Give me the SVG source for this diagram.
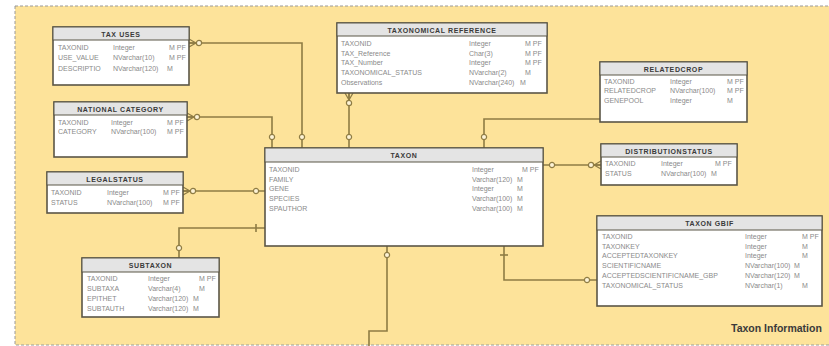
<svg xmlns="http://www.w3.org/2000/svg" width="829" height="346" viewBox="0 0 829 346">
<style>
.box{fill:#fff;stroke:#5b5646;stroke-width:1.6}
.hdr{fill:#e4e4e4;stroke:#5b5646;stroke-width:1}
.ht{font-family:"Liberation Sans",Arial,sans-serif;font-size:7px;font-weight:bold;fill:#3a3a3a;text-anchor:middle;letter-spacing:0.6px}
.r{font-family:"Liberation Sans",Arial,sans-serif;font-size:7px;fill:#8a8a8a}
.con{fill:none;stroke:#8e7c44;stroke-width:1.6}
.oc{fill:#fdf3d6;stroke:#8e7c44;stroke-width:1.2}
.lbl{font-family:"Liberation Sans",Arial,sans-serif;font-size:10.5px;font-weight:bold;fill:#3a3a3a}
</style>
<defs>
<g id="cf">
<path d="M0,-4 L7,0 M0,4 L7,0 M0,0 L7,0" fill="none" stroke="#8e7c44" stroke-width="1.3"/>
<circle cx="10" cy="0" r="2.6" class="oc"/>
</g>
<circle id="oc" r="2.6" class="oc"/>
</defs>
<rect x="0" y="0" width="829" height="346" fill="#ffffff"/>
<rect x="15" y="6" width="830" height="339" fill="#fde39a" stroke="#9a9a9a" stroke-width="1" stroke-dasharray="3,2"/>

<g id="connectors">
<path class="con" d="M189,43 H302 V148"/>
<use href="#cf" transform="translate(189,43)"/>
<use href="#oc" x="302" y="137"/>
<path class="con" d="M187,117 H272 V148"/>
<use href="#cf" transform="translate(187,117)"/>
<use href="#oc" x="272" y="137"/>
<path class="con" d="M349,93 V148"/>
<use href="#cf" transform="translate(349,93) rotate(90)"/>
<use href="#oc" x="349" y="137"/>
<path class="con" d="M600,119 H484 V148"/>
<use href="#oc" x="484" y="137"/>
<path class="con" d="M543,165 H601"/>
<use href="#oc" x="552" y="165"/>
<use href="#cf" transform="translate(601,165) rotate(180)"/>
<path class="con" d="M183,191 H265"/>
<use href="#cf" transform="translate(183,191)"/>
<use href="#oc" x="256" y="191"/>
<path class="con" d="M265,228 H179 V258"/>
<path class="con" d="M256,224 V232"/>
<use href="#oc" x="179" y="248"/>
<path class="con" d="M504,246 V280 H597"/>
<path class="con" d="M500,255 H508"/>
<use href="#oc" x="587" y="280"/>
<path class="con" d="M387,246 V331 H369 V346"/>
<use href="#oc" x="387" y="255"/>
</g>

<g id="tax_uses">
<rect class="box" x="53" y="27" width="136" height="58"/>
<rect class="hdr" x="53" y="27" width="136" height="13"/>
<text class="ht" x="121" y="36.5">TAX USES</text>
<text class="r" x="58" y="49.5">TAXONID</text><text class="r" x="113" y="49.5">Integer</text><text class="r" x="169" y="49.5">M PF</text>
<text class="r" x="58" y="60">USE_VALUE</text><text class="r" x="113" y="60">NVarchar(10)</text><text class="r" x="169" y="60">M PF</text>
<text class="r" x="58" y="70.5">DESCRIPTIO</text><text class="r" x="113" y="70.5">NVarchar(120)</text><text class="r" x="167" y="70.5">M</text>
</g>

<g id="national_category">
<rect class="box" x="54" y="102" width="133" height="55"/>
<rect class="hdr" x="54" y="102" width="133" height="13"/>
<text class="ht" x="120.5" y="111.5">NATIONAL CATEGORY</text>
<text class="r" x="58" y="124.5">TAXONID</text><text class="r" x="111" y="124.5">Integer</text><text class="r" x="167" y="124.5">M PF</text>
<text class="r" x="58" y="134">CATEGORY</text><text class="r" x="111" y="134">NVarchar(100)</text><text class="r" x="167" y="134">M PF</text>
</g>

<g id="taxonomical_reference">
<rect class="box" x="337" y="23" width="210" height="70"/>
<rect class="hdr" x="337" y="23" width="210" height="13"/>
<text class="ht" x="442" y="32.5">TAXONOMICAL REFERENCE</text>
<text class="r" x="341" y="45.5">TAXONID</text><text class="r" x="469" y="45.5">Integer</text><text class="r" x="525" y="45.5">M PF</text>
<text class="r" x="341" y="55.5">TAX_Reference</text><text class="r" x="469" y="55.5">Char(3)</text><text class="r" x="525" y="55.5">M PF</text>
<text class="r" x="341" y="65">TAX_Number</text><text class="r" x="469" y="65">Integer</text><text class="r" x="525" y="65">M PF</text>
<text class="r" x="341" y="74.5">TAXONOMICAL_STATUS</text><text class="r" x="469" y="74.5">NVarchar(2)</text><text class="r" x="525" y="74.5">M</text>
<text class="r" x="341" y="85">Observations</text><text class="r" x="469" y="85">NVarchar(240)</text><text class="r" x="520" y="85">M</text>
</g>

<g id="relatedcrop">
<rect class="box" x="600" y="62" width="147" height="60"/>
<rect class="hdr" x="600" y="62" width="147" height="13"/>
<text class="ht" x="673.5" y="71.5">RELATEDCROP</text>
<text class="r" x="604" y="83.5">TAXONID</text><text class="r" x="670" y="83.5">Integer</text><text class="r" x="727" y="83.5">M PF</text>
<text class="r" x="604" y="93">RELATEDCROP</text><text class="r" x="670" y="93">NVarchar(100)</text><text class="r" x="727" y="93">M PF</text>
<text class="r" x="604" y="102.5">GENEPOOL</text><text class="r" x="670" y="102.5">Integer</text><text class="r" x="727" y="102.5">M</text>
</g>

<g id="distributionstatus">
<rect class="box" x="601" y="144" width="136" height="41"/>
<rect class="hdr" x="601" y="144" width="136" height="13"/>
<text class="ht" x="669" y="153.5">DISTRIBUTIONSTATUS</text>
<text class="r" x="605" y="166">TAXONID</text><text class="r" x="661" y="166">Integer</text><text class="r" x="715" y="166">M PF</text>
<text class="r" x="605" y="175.5">STATUS</text><text class="r" x="661" y="175.5">NVarchar(100)</text><text class="r" x="711" y="175.5">M</text>
</g>

<g id="taxon">
<rect class="box" x="265" y="148" width="278" height="98"/>
<rect class="hdr" x="265" y="148" width="278" height="14"/>
<text class="ht" x="404" y="157.5">TAXON</text>
<text class="r" x="269" y="171.5">TAXONID</text><text class="r" x="472" y="171.5">Integer</text><text class="r" x="522" y="171.5">M PF</text>
<text class="r" x="269" y="181.5">FAMILY</text><text class="r" x="472" y="181.5">Varchar(120)</text><text class="r" x="517" y="181.5">M</text>
<text class="r" x="269" y="191">GENE</text><text class="r" x="472" y="191">Integer</text><text class="r" x="517" y="191">M</text>
<text class="r" x="269" y="200.5">SPECIES</text><text class="r" x="472" y="200.5">Varchar(100)</text><text class="r" x="517" y="200.5">M</text>
<text class="r" x="269" y="211">SPAUTHOR</text><text class="r" x="472" y="211">Varchar(100)</text><text class="r" x="517" y="211">M</text>
</g>

<g id="taxon_gbif">
<rect class="box" x="597" y="216" width="225" height="90"/>
<rect class="hdr" x="597" y="216" width="225" height="14"/>
<text class="ht" x="709.5" y="225.5">TAXON GBIF</text>
<text class="r" x="602" y="238.5">TAXONID</text><text class="r" x="745" y="238.5">Integer</text><text class="r" x="802" y="238.5">M PF</text>
<text class="r" x="602" y="248.5">TAXONKEY</text><text class="r" x="745" y="248.5">Integer</text><text class="r" x="802" y="248.5">M</text>
<text class="r" x="602" y="258">ACCEPTEDTAXONKEY</text><text class="r" x="745" y="258">Integer</text><text class="r" x="802" y="258">M</text>
<text class="r" x="602" y="268">SCIENTIFICNAME</text><text class="r" x="745" y="268">NVarchar(100)</text><text class="r" x="794" y="268">M</text>
<text class="r" x="602" y="277.5">ACCEPTEDSCIENTIFICNAME_GBP</text><text class="r" x="745" y="277.5">NVarchar(120)</text><text class="r" x="794" y="277.5">M</text>
<text class="r" x="602" y="287.5">TAXONOMICAL_STATUS</text><text class="r" x="745" y="287.5">NVarchar(1)</text><text class="r" x="802" y="287.5">M</text>
</g>

<g id="legalstatus">
<rect class="box" x="47" y="172" width="136" height="41"/>
<rect class="hdr" x="47" y="172" width="136" height="13"/>
<text class="ht" x="115" y="181.5">LEGALSTATUS</text>
<text class="r" x="51" y="194.5">TAXONID</text><text class="r" x="107" y="194.5">Integer</text><text class="r" x="163" y="194.5">M PF</text>
<text class="r" x="51" y="204.5">STATUS</text><text class="r" x="107" y="204.5">NVarchar(100)</text><text class="r" x="163" y="204.5">M PF</text>
</g>

<g id="subtaxon">
<rect class="box" x="82" y="258" width="137" height="59"/>
<rect class="hdr" x="82" y="258" width="137" height="14"/>
<text class="ht" x="150.5" y="267.5">SUBTAXON</text>
<text class="r" x="87" y="280.5">TAXONID</text><text class="r" x="148" y="280.5">Integer</text><text class="r" x="199" y="280.5">M PF</text>
<text class="r" x="87" y="290.5">SUBTAXA</text><text class="r" x="148" y="290.5">Varchar(4)</text><text class="r" x="199" y="290.5">M</text>
<text class="r" x="87" y="300.5">EPITHET</text><text class="r" x="148" y="300.5">Varchar(120)</text><text class="r" x="193" y="300.5">M</text>
<text class="r" x="87" y="310.5">SUBTAUTH</text><text class="r" x="148" y="310.5">Varchar(120)</text><text class="r" x="193" y="310.5">M</text>
</g>

<text class="lbl" x="731" y="332">Taxon Information</text>
</svg>
